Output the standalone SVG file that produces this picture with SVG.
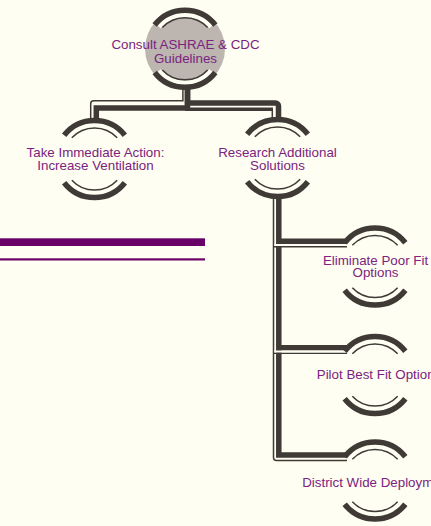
<svg xmlns="http://www.w3.org/2000/svg" width="431" height="526" viewBox="0 0 431 526">
  <style>
    .thick { fill: none; stroke: #3f3a36; stroke-width: 5.5; stroke-linejoin: miter; }
    .thin  { fill: none; stroke: #3f3a36; stroke-width: 1.5; }
    .gap   { fill: none; stroke: #fefef2; stroke-width: 4.3; }
    .label { font-family: "Liberation Sans", Arial, sans-serif; font-size: 13.33px; fill: #7b237f; text-anchor: middle; }
    .bar   { fill: #680068; }
  </style>
  <defs>
    <!-- ring decoration around each node: thick outer arc, cream gap, thin inner arc (top and bottom) -->
    <g id="rings">
      <path class="gap" d="M-26.0,-21.8 A33.9,33.9 0 0 1 26.0,-21.8"/>
      <path class="gap" d="M-26.0,21.8 A33.9,33.9 0 0 0 26.0,21.8"/>
      <path class="thick" d="M-30.34,-23.70 A38.5,38.5 0 0 1 30.34,-23.70"/>
      <path class="thick" d="M-30.34,23.70 A38.5,38.5 0 0 0 30.34,23.70"/>
      <path class="thin" d="M-22.67,-21.14 A31,31 0 0 1 22.67,-21.14"/>
      <path class="thin" d="M-22.67,21.14 A31,31 0 0 0 22.67,21.14"/>
    </g>
  </defs>

  <rect width="431" height="526" fill="#fefef2"/>

  <!-- decorative purple rules -->
  <rect class="bar" x="0" y="238.3" width="205" height="7.7"/>
  <rect class="bar" x="0" y="258.3" width="205" height="2.2"/>

  <!-- connectors (double-line elbows) -->
  <g id="connectors">
    <!-- root to "Take Immediate Action" -->
    <path class="thick" d="M187.5,86 V108 H96.3 V120"/>
    <path class="thin" d="M182.9,86 V100.8 H93.7 A3,3 0 0 0 90.7,103.8 V120"/>
    <!-- root to "Research Additional Solutions" -->
    <path class="thick" d="M187.5,86 V103 H275.5 A3,3 0 0 1 278.5,106 V120"/>
    <path fill="none" stroke="#3f3a36" stroke-width="3.6" d="M185,109.2 H273"/>
    <path class="thin" d="M272.3,109 V120"/>

    <!-- research trunk to "District Wide Deployment" -->
    <path class="thick" d="M278.8,196 V455 H347"/>
    <path class="thin" d="M273.5,196 V457.5 A3,3 0 0 0 276.5,460.5 H347"/>

    <!-- branch to "Eliminate Poor Fit Options" -->
    <path class="thick" d="M278.8,241.2 H347"/>
    <path class="thin" d="M273.5,246.7 H347"/>
    <path stroke="#fefef2" stroke-width="2" d="M274.3,245 H347"/>

    <!-- branch to "Pilot Best Fit Options" -->
    <path class="thick" d="M278.8,347.8 H347"/>
    <path class="thin" d="M273.5,353.3 H347"/>
    <path stroke="#fefef2" stroke-width="2" d="M274.3,351.6 H347"/>
  </g>

  <!-- nodes -->
  <g id="node-root">
    <circle cx="185" cy="48.75" r="40" fill="#bcb5b0"/>
    <use href="#rings" x="185" y="48.75"/>
    <text class="label" x="185.5" y="48.5">Consult ASHRAE &amp; CDC</text>
    <text class="label" x="185.5" y="63">Guidelines</text>
  </g>

  <g id="node-immediate">
    <use href="#rings" x="94.5" y="159"/>
    <text class="label" x="95.5" y="157">Take Immediate Action:</text>
    <text class="label" x="95.5" y="169.5">Increase Ventilation</text>
  </g>

  <g id="node-research">
    <use href="#rings" x="277.5" y="158"/>
    <text class="label" x="277.5" y="157">Research Additional</text>
    <text class="label" x="277.5" y="169.5">Solutions</text>
  </g>

  <g id="node-eliminate">
    <use href="#rings" x="375" y="266.5"/>
    <text class="label" x="375.5" y="264.5">Eliminate Poor Fit</text>
    <text class="label" x="375.5" y="277.3">Options</text>
  </g>

  <g id="node-pilot">
    <use href="#rings" x="375" y="375"/>
    <text class="label" x="379" y="378.5">Pilot Best Fit Options</text>
  </g>

  <g id="node-district">
    <use href="#rings" x="375" y="480.5"/>
    <text class="label" x="377" y="486.5">District Wide Deployment</text>
  </g>
</svg>
